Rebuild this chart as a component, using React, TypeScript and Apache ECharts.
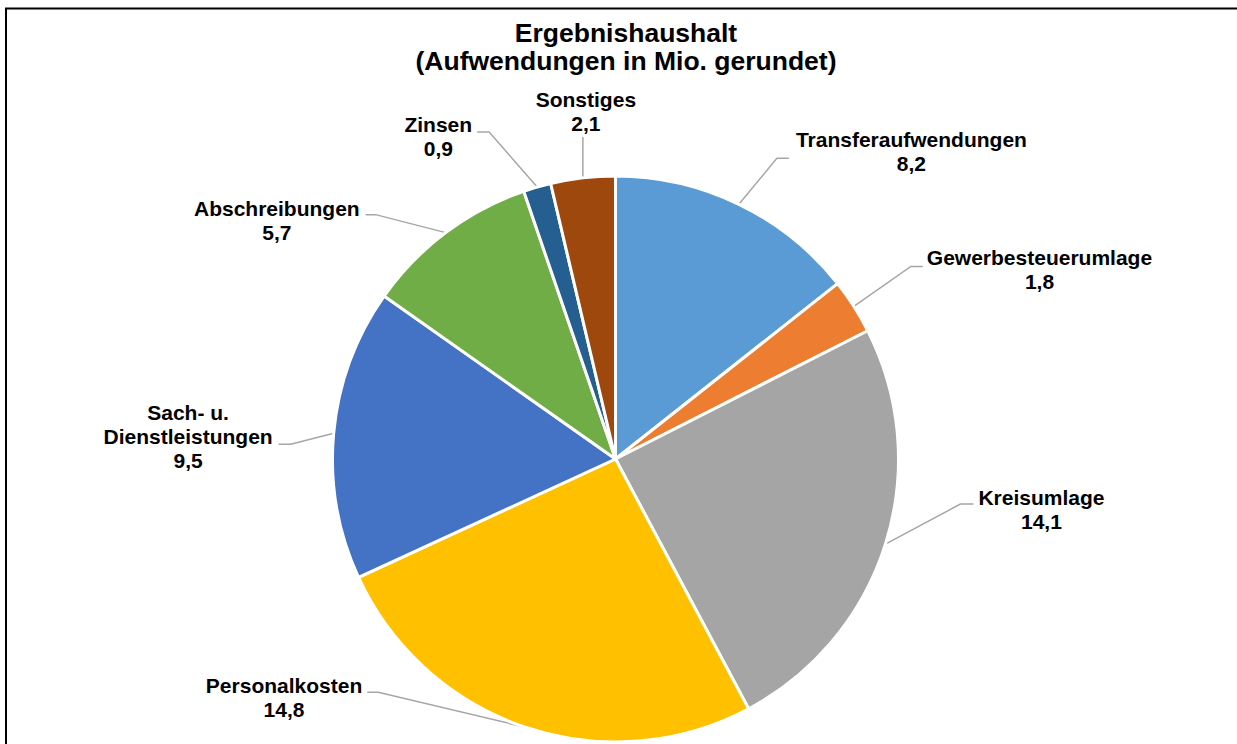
import React, { useEffect, useRef } from "react";
import * as echarts from "echarts";

const categories = [
  "Transferaufwendungen",
  "Gewerbesteuerumlage",
  "Kreisumlage",
  "Personalkosten",
  "Sach- u. Dienstleistungen",
  "Abschreibungen",
  "Zinsen",
  "Sonstiges",
];
const values = [8.2, 1.8, 14.1, 14.8, 9.5, 5.7, 0.9, 2.1];
const colors = ["#5B9BD5", "#ED7D31", "#A5A5A5", "#FFC000", "#4472C4", "#70AD47", "#255E91", "#9E480E"];
const titleLines = ["Ergebnishaushalt", "(Aufwendungen in Mio. gerundet)"];

// leader line geometry relative to the sector edge point computed by ECharts
const leaderElbow = [
  [38, -46],
  [57, -40],
  [75, -40],
  [-147, -35],
  [-43, 11],
  [-70, -18],
  [-48, -55],
  [0, -41],
];
const leaderTail = [12, 12, 13, 11, 12, 10, 12, 0];
const labelGap = [7, 4, 5, 5, 6, 6, 5, 1];
const labelShift = [-7, 3.5, 5.5, 5, -7.5, 5.5, 4.5, 3];
const aboveIndex = 7;

const FONT = "'Liberation Sans', Arial, Helvetica, sans-serif";

export default function App() {
  const ref = useRef<HTMLDivElement>(null);
  useEffect(() => {
    if (!ref.current) return;
    const chart = echarts.init(ref.current, undefined, { renderer: "svg" });
    const data = categories.map((name, i) => ({
      name,
      value: values[i],
      itemStyle: { color: colors[i] },
    }));
    chart.setOption({
      animation: false,
      backgroundColor: "#ffffff",
      graphic: [
        {
          type: "line",
          shape: { x1: 6, y1: 8, x2: 6, y2: 760 },
          style: { stroke: "#000", lineWidth: 2 },
          z: 100,
        },
        {
          type: "line",
          shape: { x1: 5, y1: 8.5, x2: 1260, y2: 8.5 },
          style: { stroke: "#000", lineWidth: 2 },
          z: 100,
        },
        {
          type: "text",
          x: 626,
          y: 19,
          style: {
            text: titleLines.join("\n"),
            align: "center",
            verticalAlign: "top",
            fontSize: 26.5,
            fontWeight: "bold",
            fontFamily: FONT,
            lineHeight: 28,
            fill: "#000",
          },
        },
      ],
      series: [
        {
          type: "pie",
          center: [615.5, 459],
          radius: 283,
          startAngle: 90,
          clockwise: true,
          avoidLabelOverlap: false,
          data,
          itemStyle: { borderColor: "#ffffff", borderWidth: 3 },
          emphasis: { disabled: true },
          label: {
            show: true,
            position: "outside",
            color: "#000",
            fontSize: 21,
            fontWeight: "bold",
            fontFamily: FONT,
            lineHeight: 24,
            formatter: (p: any) =>
              `${String(p.name).replace("u. ", "u.\n")}\n${Number(p.value).toFixed(1).replace(".", ",")}`,
          },
          labelLine: {
            show: true,
            length: 20,
            length2: 10,
            lineStyle: { color: "#A6A6A6", width: 1.5 },
          },
          labelLayout: (params: any) => {
            const i = params.dataIndex;
            const pts = params.labelLinePoints;
            if (!pts || !pts[0]) return {};
            const p0 = pts[0];
            const e = leaderElbow[i];
            const p1 = [p0[0] + e[0], p0[1] + e[1]];
            const dir = e[0] < 0 ? -1 : 1;
            const p2 = [p1[0] + dir * leaderTail[i], p1[1]];
            const w = params.labelRect.width;
            if (i === aboveIndex) {
              return {
                x: p2[0] + labelShift[i],
                y: p2[1] - labelGap[i],
                align: "center",
                verticalAlign: "bottom",
                labelLinePoints: [p0, p1, p2],
              };
            }
            return {
              x: p2[0] + dir * (labelGap[i] + w / 2),
              y: p2[1] + labelShift[i],
              align: "center",
              verticalAlign: "middle",
              labelLinePoints: [p0, p1, p2],
            };
          },
        },
      ],
    });
    return () => chart.dispose();
  }, []);
  return (
    <div
      ref={ref}
      style={{ position: "fixed", left: 0, top: 0, width: 1237, height: 744, background: "#fff" }}
    />
  );
}
